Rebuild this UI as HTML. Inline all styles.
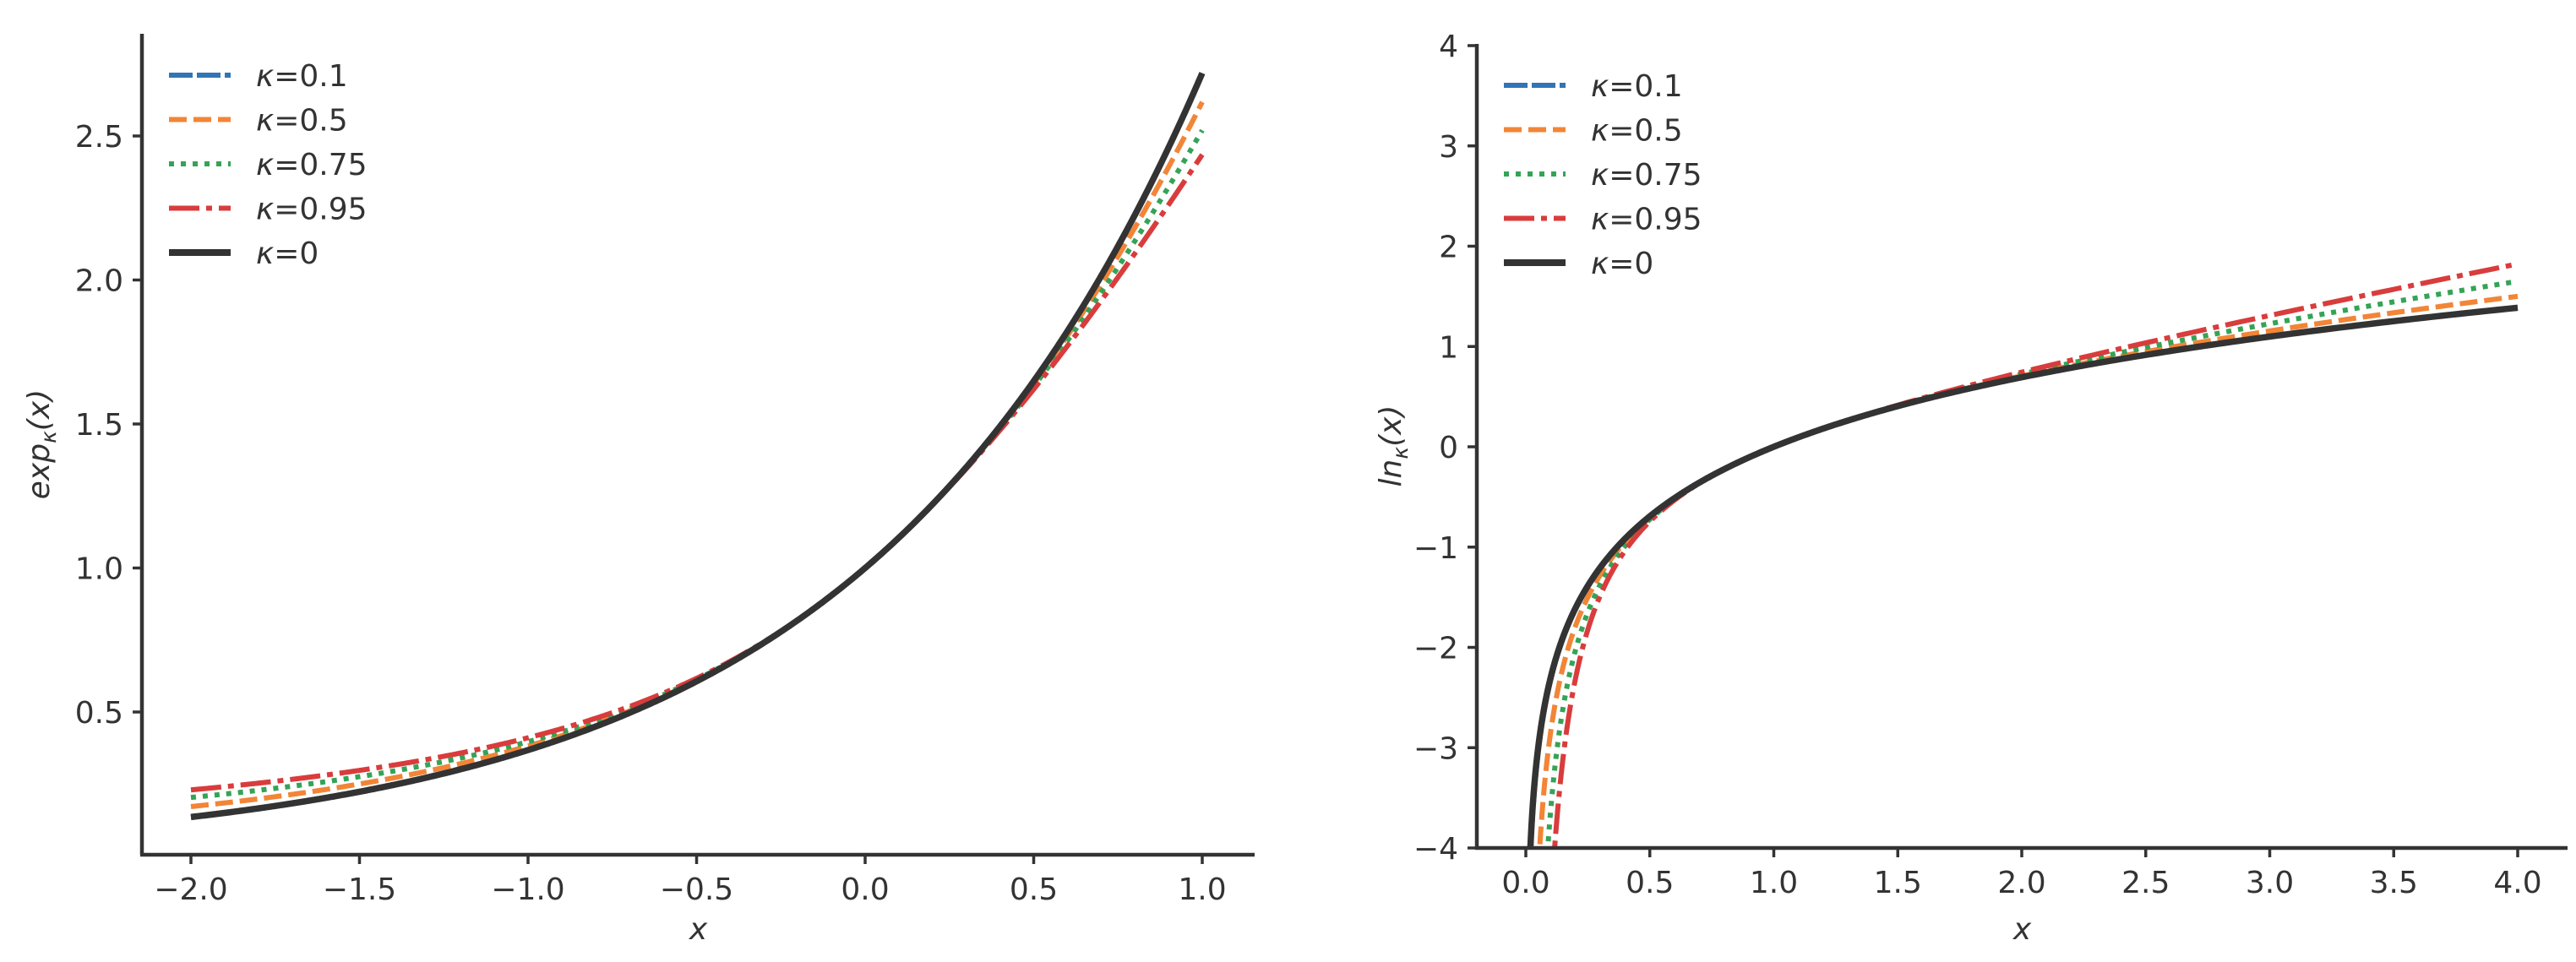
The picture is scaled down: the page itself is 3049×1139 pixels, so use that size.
<!DOCTYPE html>
<html><head><meta charset="utf-8"><style>
html,body{margin:0;padding:0;background:#fff;width:3049px;height:1139px;overflow:hidden;}
svg{display:block;font-family:"DejaVu Sans","Liberation Sans",sans-serif;}
</style></head><body>
<svg id="fig" width="3049" height="1139" viewBox="0 0 3049 1139" xmlns="http://www.w3.org/2000/svg">
<defs>
<clipPath id="clipL"><rect x="168" y="40" width="1317" height="972"/></clipPath>
<clipPath id="clipR"><rect x="1748" y="40" width="1291" height="964"/></clipPath>
</defs>
<g id="left"></g>
<g id="right"></g>
</svg>
<script>
const kappas = [0.1, 0.5, 0.75, 0.95, 0];
const seriesLabels = ["κ=0.1", "κ=0.5", "κ=0.75", "κ=0.95", "κ=0"];
const leftXTicks = [-2.0, -1.5, -1.0, -0.5, 0.0, 0.5, 1.0];
const leftYTicks = [0.5, 1.0, 1.5, 2.0, 2.5];
const rightXTicks = [0.0, 0.5, 1.0, 1.5, 2.0, 2.5, 3.0, 3.5, 4.0];
const rightYTicks = [-4, -3, -2, -1, 0, 1, 2, 3, 4];
const leftXRange = [-2, 1];
const rightXRange = [0.01, 4];

const colors = ["#3274b5", "#f28536", "#35a356", "#d93c3c", "#333333"];
const dashes = ["28,5", "21,8", "6,8", "36,8,7,8", ""];
const widths = [6, 6, 6, 6, 7.5];
const NS = "http://www.w3.org/2000/svg";
const INK = "#333333";

function el(tag, attrs, parent) {
  const e = document.createElementNS(NS, tag);
  for (const k in attrs) e.setAttribute(k, attrs[k]);
  parent.appendChild(e);
  return e;
}
function expK(x, k) { return k === 0 ? Math.exp(x) : Math.pow(Math.sqrt(1 + k*k*x*x) + k*x, 1/k); }
function lnK(x, k) { return k === 0 ? Math.log(x) : (Math.pow(x, k) - Math.pow(x, -k)) / (2*k); }
function fmt(v, d) { const s = v.toFixed(d); return v < 0 ? "−" + s.slice(1) : s; }

function drawChart(g, cfg) {
  const sx = v => cfg.x0 + (v - cfg.xd0) / (cfg.xd1 - cfg.xd0) * (cfg.x1 - cfg.x0);
  const sy = v => cfg.y0 + (v - cfg.yd0) / (cfg.yd1 - cfg.yd0) * (cfg.y1 - cfg.y0);
  const sg = el("g", {"clip-path": "url(#" + cfg.clip + ")"}, g);
  kappas.forEach((k, i) => {
    const n = 600;
    let pts = [];
    for (let j = 0; j <= n; j++) {
      let t = j / n;
      let x = cfg.log ? cfg.xr[0] * Math.pow(cfg.xr[1] / cfg.xr[0], t) : cfg.xr[0] + t * (cfg.xr[1] - cfg.xr[0]);
      let y = cfg.f(x, k);
      y = Math.max(y, cfg.yMinClamp);
      pts.push(sx(x).toFixed(2) + "," + sy(y).toFixed(2));
    }
    const p = el("polyline", {points: pts.join(" "), fill: "none", stroke: colors[i], "stroke-width": widths[i], "stroke-dasharray": dashes[i] || "none", "stroke-linejoin": "round"}, sg);
    
    
  });
  const ls = el("line", {x1: cfg.spineL, y1: cfg.spineT, x2: cfg.spineL, y2: cfg.spineB, stroke: INK, "stroke-width": 4.5}, g);
  
  
  const bs = el("line", {x1: cfg.spineL - 2, y1: cfg.spineB, x2: cfg.spineR, y2: cfg.spineB, stroke: INK, "stroke-width": 4.5}, g);
  
  
  cfg.xt.forEach(v => {
    const x = sx(v);
    const t = el("line", {x1: x, y1: cfg.spineB, x2: x, y2: cfg.spineB + 11, stroke: INK, "stroke-width": 3.5}, g);
    
    
    const tx = el("text", {x: x, y: cfg.spineB + 53, "text-anchor": "middle", "font-size": 36, fill: INK}, g);
    tx.textContent = fmt(v, 1);
    
    
  });
  cfg.yt.forEach(v => {
    const y = sy(v);
    const t = el("line", {x1: cfg.spineL - 11, y1: y, x2: cfg.spineL, y2: y, stroke: INK, "stroke-width": 3.5}, g);
    
    
    const tx = el("text", {x: cfg.spineL - 22, y: y + 13, "text-anchor": "end", "font-size": 36, fill: INK}, g);
    tx.textContent = fmt(v, cfg.yDec);
    
    
  });
  const xl = el("text", {x: (cfg.spineL + cfg.spineR) / 2, y: 1112, "text-anchor": "middle", "font-size": 36, "font-style": "italic", fill: INK}, g);
  xl.textContent = "x";
  
  
  const yl = el("text", {transform: "translate(" + cfg.ylx + "," + cfg.yly + ") rotate(-90)", "text-anchor": "middle", "font-size": 36, "font-style": "italic", fill: INK}, g);
  yl.innerHTML = cfg.ylab + '<tspan font-size="25" dy="8">κ</tspan><tspan dy="-8">(x)</tspan>';
  
  
  const lg = el("g", {}, g);
  
  
  kappas.forEach((k, i) => {
    const y = cfg.legY + i * 52.5;
    const e = el("g", {}, lg);
    
    
    el("line", {x1: cfg.legX, y1: y, x2: cfg.legX + 73, y2: y, stroke: colors[i], "stroke-width": widths[i] + (i === 4 ? 0.5 : 0), "stroke-dasharray": dashes[i] || "none"}, e);
    const tx = el("text", {x: cfg.legX + 103, y: y + 13, "font-size": 36, fill: INK}, e);
    tx.innerHTML = '<tspan font-style="italic">κ</tspan>=' + seriesLabels[i].split("=")[1];
  });
}

drawChart(document.getElementById("left"), {
  f: expK, xr: leftXRange, log: false, clip: "clipL",
  xd0: -2, xd1: 1, x0: 226, x1: 1423,
  yd0: 0.5, yd1: 2.5, y0: 843, y1: 161,
  yMinClamp: 0,
  spineL: 168, spineR: 1485, spineT: 40, spineB: 1012,
  xt: leftXTicks, yt: leftYTicks, yDec: 1,
  ylx: 58, yly: 526, ylab: "exp",
  legX: 200, legY: 89
});
drawChart(document.getElementById("right"), {
  f: lnK, xr: rightXRange, log: true, clip: "clipR",
  xd0: 0, xd1: 4, x0: 1806, x1: 2980,
  yd0: -4, yd1: 4, y0: 1004, y1: 54,
  yMinClamp: -4.1,
  spineL: 1748, spineR: 3039, spineT: 52, spineB: 1004,
  xt: rightXTicks, yt: rightYTicks, yDec: 0,
  ylx: 1658, yly: 528, ylab: "ln",
  legX: 1780, legY: 101
});
</script>
</body></html>
